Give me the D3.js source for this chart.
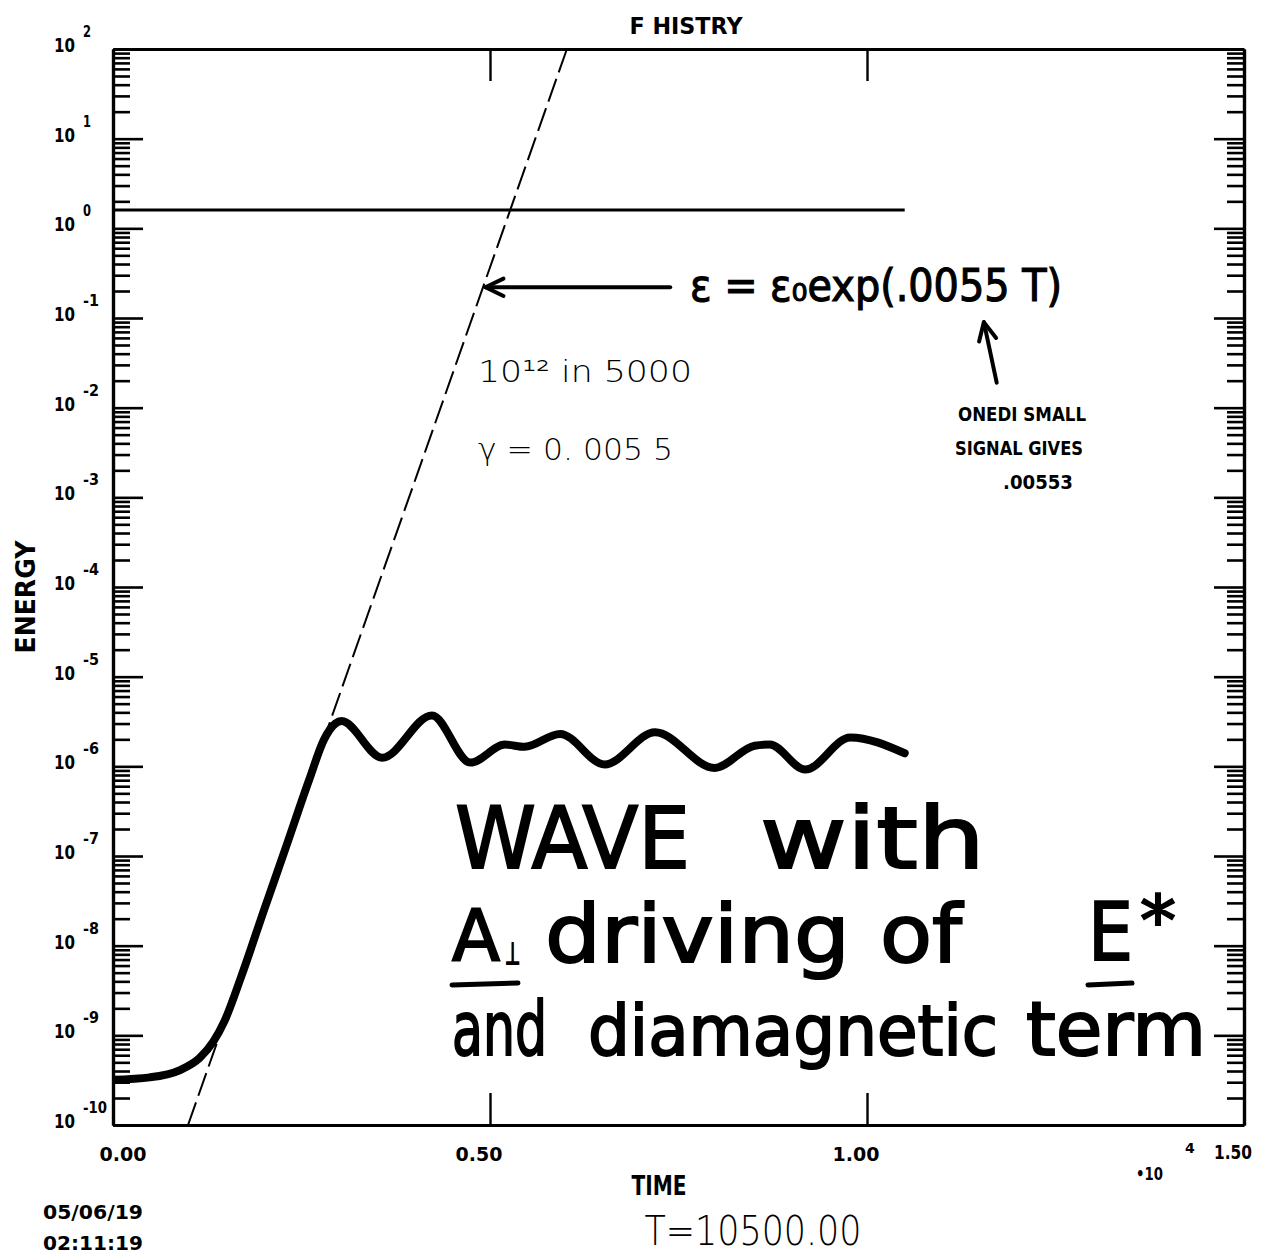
<!DOCTYPE html>
<html>
<head>
<meta charset="utf-8">
<script src="https://cdn.jsdelivr.net/npm/d3@7"></script>
<style>
body { margin: 0; background: #fff; }
svg { display: block; background: #fff; }
</style>
</head>
<body>
<script>
// energy history plot, log energy vs time
const W = 1261, H = 1255;

// data ----------------------------------------------------------------
const timeVals   = [0, 490, 890, 1150, 1330, 1480, 1700, 2000, 2300, 2600, 2800, 2950, 3030,
                    3570, 4230, 4740, 5200, 5460, 5930, 6520, 7190, 7980, 8510, 8710, 9180, 9780, 10500];
const energyVals = [3.2e-10, 3.4e-10, 4.1e-10, 5.6e-10, 8.5e-10, 1.45e-9, 4.5e-9, 2.45e-8, 1.3e-7, 7.0e-7, 2.0e-6, 3.0e-6, 3.2e-6,
                    1.25e-6, 3.7e-6, 1.1e-6, 1.75e-6, 1.65e-6, 2.3e-6, 1.05e-6, 2.4e-6, 9.6e-7, 1.7e-6, 1.75e-6, 9.2e-7, 2.1e-6, 1.4e-6];

// flat reference line
const refT = [0, 10500];
const refE = [1.6, 1.6];

// hand drawn exponential fit  E = E0 exp(.0055 T)
const fitT = [995, 6020];
const fitE = [1e-10, 1e2];

const xTickVals   = [0, 5000, 10000, 15000];
const xTickLabels = ["0.00", "0.50", "1.00", "1.50"];
const yExponents  = ["2", "1", "0", "-1", "-2", "-3", "-4", "-5", "-6", "-7", "-8", "-9", "-10"];

// arrows drawn on the plot, in data units
const leftArrow = [[7390, 0.22], [4940, 0.22]];
const upArrow   = [[11720, 0.019], [11550, 0.09]];

// ---------------------------------------------------------------------
const x = d3.scaleLinear().domain([0, 15000]).range([113, 1244]);
const y = d3.scaleLog().domain([1e-10, 1e2]).range([1125, 49]);

const svg = d3.select("body").append("svg").attr("width", W).attr("height", H);

svg.append("clipPath").attr("id", "plot-clip")
  .append("rect")
  .attr("x", x(0)).attr("y", y(1e2))
  .attr("width", x(15000) - x(0)).attr("height", y(1e-10) - y(1e2));

const boldFont = "'DejaVu Sans', sans-serif";

// ── axes ────────────────────────────────────────────────────────────
const allY = y.ticks(200);
const majorY = allY.filter(v => Math.abs(Math.log10(v) - Math.round(Math.log10(v))) < 1e-9);
const minorY = allY.filter(v => !majorY.includes(v));

function styleAxis(g, sw) {
  g.selectAll("path.domain").attr("stroke", "#000").attr("stroke-width", 3.2);
  g.selectAll(".tick line").attr("stroke", "#000").attr("stroke-width", sw);
  g.selectAll(".tick text").remove();
}

[
  { side: "left",  pos: x(0),     gen: d3.axisLeft,  dir: -1 },
  { side: "right", pos: x(15000), gen: d3.axisRight, dir: -1 },
].forEach(a => {
  svg.append("g").attr("transform", `translate(${a.pos},0)`)
    .call(a.gen(y).tickValues(minorY).tickSize(a.dir * 17).tickSizeOuter(0).tickFormat(""))
    .call(g => styleAxis(g, 2.6));
  svg.append("g").attr("transform", `translate(${a.pos},0)`)
    .call(a.gen(y).tickValues(majorY).tickSize(a.dir * 30).tickSizeOuter(0).tickFormat(""))
    .call(g => styleAxis(g, 2.6));
});

[
  { pos: y(1e-10), gen: d3.axisBottom },
  { pos: y(1e2),   gen: d3.axisTop },
].forEach(a => {
  svg.append("g").attr("transform", `translate(0,${a.pos})`)
    .call(a.gen(x).tickValues([5000, 10000]).tickSize(-32).tickSizeOuter(0).tickFormat(""))
    .call(g => styleAxis(g, 2.4));
});

// y tick labels "10" with exponent
yExponents.forEach(e => {
  const v = Math.pow(10, +e);
  const ty = y(v);
  svg.append("text")
    .attr("x", 54).attr("y", ty + 3)
    .attr("font-family", boldFont).attr("font-weight", "bold")
    .attr("font-size", 19).attr("textLength", 21).attr("lengthAdjust", "spacingAndGlyphs")
    .text("10");
  svg.append("text")
    .attr("x", 83).attr("y", ty - 12)
    .attr("font-family", boldFont).attr("font-weight", "bold")
    .attr("font-size", 16)
    .attr("textLength", e.length * 8).attr("lengthAdjust", "spacingAndGlyphs")
    .text(e);
});

// x tick labels
xTickVals.forEach((v, i) => {
  const last = i === xTickVals.length - 1;
  svg.append("text")
    .attr("x", x(v) + (i === 0 ? 10 : -11))
    .attr("y", last ? 1159 : 1161)
    .attr("text-anchor", "middle")
    .attr("font-family", boldFont).attr("font-weight", "bold")
    .attr("font-size", 19).attr("textLength", last ? 38 : 47).attr("lengthAdjust", "spacingAndGlyphs")
    .text(xTickLabels[i]);
});

// *10^4 multiplier
svg.append("text").attr("x", 1136).attr("y", 1180)
  .attr("font-family", boldFont).attr("font-weight", "bold").attr("font-size", 18)
  .attr("textLength", 27).attr("lengthAdjust", "spacingAndGlyphs").text("•10");
svg.append("text").attr("x", 1185).attr("y", 1153)
  .attr("font-family", boldFont).attr("font-weight", "bold").attr("font-size", 14).text("4");

// axis titles
svg.append("text").attr("x", 659).attr("y", 1195).attr("text-anchor", "middle")
  .attr("font-family", boldFont).attr("font-weight", "bold").attr("font-size", 26)
  .attr("textLength", 55).attr("lengthAdjust", "spacingAndGlyphs").text("TIME");

svg.append("text")
  .attr("transform", "translate(35,597) rotate(-90)")
  .attr("text-anchor", "middle")
  .attr("font-family", boldFont).attr("font-weight", "bold").attr("font-size", 26)
  .attr("textLength", 113).attr("lengthAdjust", "spacingAndGlyphs").text("ENERGY");

svg.append("text").attr("x", 686).attr("y", 34).attr("text-anchor", "middle")
  .attr("font-family", boldFont).attr("font-weight", "bold").attr("font-size", 23)
  .attr("textLength", 113).attr("lengthAdjust", "spacingAndGlyphs").text("F HISTRY");

svg.append("text").attr("x", 753).attr("y", 1245).attr("text-anchor", "middle")
  .attr("font-family", "'DejaVu Sans', sans-serif").attr("font-weight", 200).attr("font-size", 40)
  .attr("textLength", 217).attr("lengthAdjust", "spacingAndGlyphs").text("T=10500.00");

svg.append("text").attr("x", 43).attr("y", 1219)
  .attr("font-family", boldFont).attr("font-weight", "bold").attr("font-size", 19)
  .attr("textLength", 100).attr("lengthAdjust", "spacingAndGlyphs").text("05/06/19");
svg.append("text").attr("x", 43).attr("y", 1250)
  .attr("font-family", boldFont).attr("font-weight", "bold").attr("font-size", 19)
  .attr("textLength", 100).attr("lengthAdjust", "spacingAndGlyphs").text("02:11:19");

// ── data lines ──────────────────────────────────────────────────────
const plot = svg.append("g").attr("clip-path", "url(#plot-clip)");
const line = d3.line().x(d => x(d[0])).y(d => y(d[1]));

plot.append("path")
  .datum(refT.map((t, i) => [t, refE[i]]))
  .attr("d", line)
  .attr("fill", "none").attr("stroke", "#000").attr("stroke-width", 3);

plot.append("path")
  .datum(fitT.map((t, i) => [t, fitE[i]]))
  .attr("d", line)
  .attr("fill", "none").attr("stroke", "#000").attr("stroke-width", 2)
  .attr("stroke-dasharray", "24,7");

plot.append("path")
  .datum(timeVals.map((t, i) => [t, energyVals[i]]))
  .attr("d", line.curve(d3.curveMonotoneX))
  .attr("fill", "none").attr("stroke", "#000").attr("stroke-width", 8)
  .attr("stroke-linejoin", "round").attr("stroke-linecap", "round");

// ── hand written notes ─────────────────────────────────────────────
const hand = "'DejaVu Sans', sans-serif";

function arrow(pts, head) {
  const [p0, p1] = pts.map(p => [x(p[0]), y(p[1])]);
  svg.append("line")
    .attr("x1", p0[0]).attr("y1", p0[1]).attr("x2", p1[0]).attr("y2", p1[1])
    .attr("stroke", "#000").attr("stroke-width", 4).attr("stroke-linecap", "round");
  const ang = Math.atan2(p1[1] - p0[1], p1[0] - p0[0]);
  const hp = [-0.45, 0.45].map(da => [p1[0] - head * Math.cos(ang + da), p1[1] - head * Math.sin(ang + da)]);
  svg.append("path")
    .attr("d", `M${hp[0]}L${p1}L${hp[1]}`)
    .attr("fill", "none").attr("stroke", "#000").attr("stroke-width", 4)
    .attr("stroke-linecap", "round").attr("stroke-linejoin", "round");
}
arrow(leftArrow, 20);
arrow(upArrow, 20);

svg.append("text").attr("x", 690).attr("y", 301)
  .attr("font-family", hand).attr("font-size", 44)
  .attr("textLength", 372).attr("lengthAdjust", "spacingAndGlyphs")
  .attr("stroke", "#000").attr("stroke-width", 1.2)
  .text("ε = ε₀exp(.0055 T)");

svg.append("text").attr("x", 478).attr("y", 382)
  .attr("font-family", hand).attr("font-size", 30).attr("font-weight", 300)
  .attr("textLength", 214).attr("lengthAdjust", "spacingAndGlyphs")
  .text("10¹²  in  5000");
svg.append("text").attr("x", 478).attr("y", 460)
  .attr("font-family", hand).attr("font-size", 30).attr("font-weight", 300)
  .attr("textLength", 195).attr("lengthAdjust", "spacingAndGlyphs")
  .text("γ = 0. 005 5");

[["ONEDI   SMALL", 958, 421, 128], ["SIGNAL   GIVES", 955, 455, 128], [".00553", 1003, 489, 70]].forEach(([t, tx, ty, tl]) => {
  svg.append("text").attr("x", tx).attr("y", ty)
    .attr("font-family", hand).attr("font-weight", "bold").attr("font-size", 19)
    .attr("textLength", tl).attr("lengthAdjust", "spacingAndGlyphs").text(t);
});

// big label
const bigWords = [
  { t: "WAVE", x: 455, y: 868, w: 235, s: 86 },
  { t: "with", x: 760, y: 868, w: 225, s: 86 },
  { t: "A", x: 452, y: 960, w: 48, s: 72 },
  { t: "⊥", x: 505, y: 964, w: 15, s: 30 },
  { t: "driving", x: 545, y: 962, w: 305, s: 80 },
  { t: "of", x: 880, y: 962, w: 82, s: 80 },
  { t: "E", x: 1088, y: 960, w: 45, s: 80 },
  { t: "*", x: 1140, y: 945, w: 36, s: 70 },
  { t: "and", x: 452, y: 1055, w: 95, s: 74 },
  { t: "diamagnetic", x: 588, y: 1055, w: 410, s: 70 },
  { t: "term", x: 1026, y: 1055, w: 180, s: 74 },
];
bigWords.forEach(d => {
  svg.append("text").attr("x", d.x).attr("y", d.y)
    .attr("font-family", hand).attr("font-size", d.s)
    .attr("textLength", d.w).attr("lengthAdjust", "spacingAndGlyphs")
    .attr("stroke", "#000").attr("stroke-width", 2)
    .text(d.t);
});
// underlines under A and E
[[452, 518], [1088, 1132]].forEach(([a, b]) => {
  svg.append("line").attr("x1", a).attr("x2", b).attr("y1", 985).attr("y2", 983)
    .attr("stroke", "#000").attr("stroke-width", 5).attr("stroke-linecap", "round");
});
</script>
</body>
</html>
